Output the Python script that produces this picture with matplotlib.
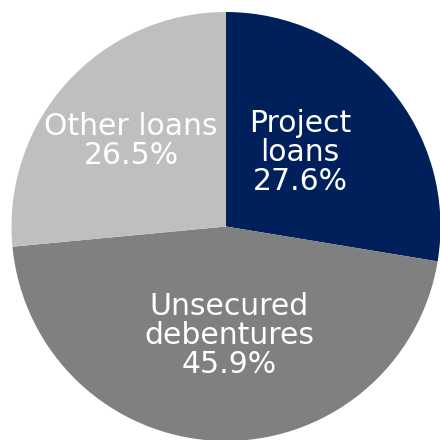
import matplotlib.pyplot as plt

labels = ["Project\nloans", "Unsecured\ndebentures", "Other loans"]
shares = [27.6, 45.9, 26.5]
colors = ["#00205b", "#808080", "#bfbfbf"]

# label anchor points (data units, pie radius = 1)
label_pos = [(0.345, 0.347), (0.014, -0.506), (-0.443, 0.399)]

fig = plt.figure(figsize=(4.4, 4.4), dpi=100)
ax = fig.add_axes([0, 0, 1, 1])

ax.pie(shares, colors=colors, startangle=90, counterclock=False,
       radius=1, center=(0, 0), wedgeprops=dict(linewidth=0))

for lab, val, (x, y) in zip(labels, shares, label_pos):
    ax.text(x, y, f"{lab}\n{val:.1f}%", ha="center", va="center",
            color="white", fontsize=21.5, family="DejaVu Sans",
            linespacing=1.0)

ax.set_xlim(-1.0536, 0.9977)
ax.set_ylim(-0.9953, 1.056)
ax.set_aspect("equal")
ax.axis("off")

fig.savefig("out.png", dpi=100)
